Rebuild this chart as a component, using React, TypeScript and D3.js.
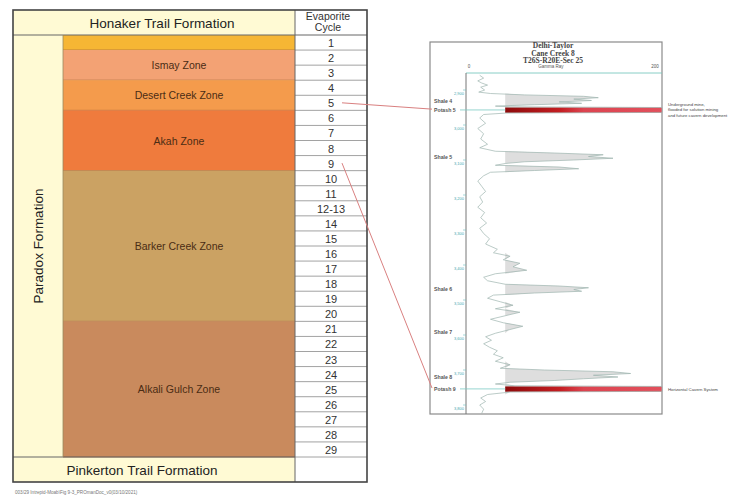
import React from "react";
import * as d3 from "d3";

// ---- Evaporite cycle column ----
const cycleLabels = [
  "1", "2", "3", "4", "5", "6", "7", "8", "9", "10", "11", "12-13", "14", "15",
  "16", "17", "18", "19", "20", "21", "22", "23", "24", "25", "26", "27", "28", "29",
];

// ---- Paradox Formation zones (row index ranges into cycleLabels) ----
const zoneNames = ["", "Ismay Zone", "Desert Creek Zone", "Akah Zone", "Barker Creek Zone", "Alkali Gulch Zone"];
const zoneFirstRow = [0, 1, 3, 5, 9, 19];
const zoneLastRow = [0, 2, 4, 8, 18, 27];
const zoneColors = ["#F6B634", "#F3A274", "#F49B4C", "#EF7B3D", "#CBA263", "#C98A5D"];

// ---- Delhi-Taylor Cane Creek 8 gamma ray log (depth ft, GR API) ----
const logDepths = [
  2858, 2866, 2874, 2880, 2886, 2892, 2900, 2906, 2910, 2914, 2918, 2922, 2926, 2930, 2934, 2938, 2942, 2946,
  2948, 2950, 2964, 2966, 2970, 2980, 2995, 3010, 3025, 3040, 3055, 3065, 3075,
  3080, 3085, 3090, 3095, 3100, 3105, 3110, 3115, 3120, 3125, 3130, 3135,
  3145, 3160, 3175, 3190, 3205, 3220, 3235, 3250, 3265, 3280, 3295, 3310, 3325, 3340, 3355, 3365, 3375, 3385,
  3395, 3405, 3415, 3425, 3435, 3445,
  3455, 3460, 3465, 3470, 3475, 3480, 3486,
  3495, 3505, 3515, 3525, 3535, 3545, 3555, 3565, 3575, 3585, 3595, 3605, 3615, 3625, 3635, 3645, 3655, 3665,
  3675, 3685, 3695,
  3700, 3705, 3710, 3715, 3720, 3725, 3730, 3735, 3740,
  3745, 3747, 3761, 3763, 3770, 3780, 3790, 3800, 3812, 3824,
];
const logGamma = [
  14, 18, 12, 16, 22, 15, 19, 13, 25, 60, 120, 135, 110, 128, 95, 118, 70, 30,
  45, 200, 200, 40, 18, 14, 20, 12, 18, 15, 22, 14, 30,
  90, 140, 125, 150, 110, 60, 40, 30, 95, 115, 70, 25,
  18, 12, 16, 20, 14, 17, 12, 19, 15, 21, 14, 18, 24, 20, 32, 28, 45, 38,
  55, 48, 62, 30, 18, 22,
  40, 95, 125, 110, 118, 70, 28,
  22, 35, 48, 30, 55, 40, 25, 38, 58, 44, 30, 20, 26, 18, 24, 32, 28, 38,
  30, 45, 35,
  80, 150, 168, 130, 155, 120, 90, 45, 30,
  50, 200, 200, 45, 22, 15, 20, 14, 18, 16,
];

const depthTicks = [2900, 3000, 3100, 3200, 3300, 3400, 3500, 3600, 3700, 3800];
const markerNames = ["Shale 4", "Potash 5", "Shale 5", "Shale 6", "Shale 7", "Shale 8", "Potash 9"];
const markerDepths = [2931, 2957, 3091, 3469, 3591, 3720, 3754];
const potashTops = [2950, 3747];
const potashBases = [2965, 3762];
const potashCycles = ["5", "9"];

const titleLines = ["Delhi-Taylor", "Cane Creek 8", "T26S-R20E-Sec 25"];
const mineNote = ["Underground mine,", "flooded for solution mining", "and future cavern development"];
const cavernNote = "Horizontal Cavern System";

const SANS = "'Liberation Sans', Arial, sans-serif";
const SERIF = "'Liberation Serif', 'Times New Roman', serif";

export default function App() {
  // Table geometry
  const tL = 13, tR = 367, tT = 10, tB = 482;
  const colZone = 63, colCycle = 295;
  const rowY = d3.scaleLinear().domain([0, cycleLabels.length]).range([35, 457]);
  const rowH = rowY(1) - rowY(0);
  const cycleX = (colCycle + tR) / 2;
  const zoneX = (colZone + colCycle) / 2;

  // Log panel geometry
  const pL = 430, pR = 662, pT = 42, pB = 414;
  const trackL = 466, trackT = 73;
  const x = d3.scaleLinear().domain([0, 200]).range([trackL, pR]);
  const y = d3.scaleLinear().domain([2900, 3800]).range([90, 405]);

  const pts: [number, number][] = logDepths.map((d, i) => [d, logGamma[i]]);
  const clampGR = (g: number) => Math.max(0, Math.min(200, g));
  const line = d3.line<[number, number]>().x((d) => x(clampGR(d[1]))).y((d) => y(d[0]));
  const shaleArea = d3
    .area<[number, number]>()
    .y((d) => y(d[0]))
    .x0(x(40))
    .x1((d) => x(Math.max(40, clampGR(d[1]))));

  // Connector start points at the cycle cells
  const cycleRowCenter = (label: string) => rowY(cycleLabels.indexOf(label)) + rowH / 2;

  return (
    <svg
      width={739}
      height={498}
      style={{ position: "absolute", left: 0, top: 0, background: "#fff" }}
      fontFamily={SANS}
    >
      <defs>
        <linearGradient id="potashFill" x1="0" x2="1" y1="0" y2="0">
          <stop offset="0" stopColor="#8E0B0C" />
          <stop offset="0.35" stopColor="#C41E22" />
          <stop offset="0.5" stopColor="#DC4450" />
          <stop offset="1" stopColor="#E2505C" />
        </linearGradient>
      </defs>

      {/* ===== Stratigraphic table ===== */}
      <rect x={tL} y={tT} width={colCycle - tL} height={tB - tT} fill="#FFFAD4" />
      <rect x={colCycle} y={tT} width={tR - colCycle} height={tB - tT} fill="#fff" />

      {zoneNames.map((name, i) => {
        const y0 = rowY(zoneFirstRow[i]);
        const y1 = rowY(zoneLastRow[i] + 1);
        return (
          <g key={"z" + i}>
            <rect x={colZone} y={y0} width={colCycle - colZone} height={y1 - y0} fill={zoneColors[i]} />
            <line x1={colZone} x2={colCycle} y1={y1} y2={y1} stroke="#A8683A" strokeWidth={0.8} />
            {name && (
              <text
                x={zoneX}
                y={(y0 + y1) / 2}
                textAnchor="middle"
                dominantBaseline="central"
                fontSize={10.5}
                fill="#4A2C14"
              >
                {name}
              </text>
            )}
          </g>
        );
      })}

      {/* cycle rows */}
      {cycleLabels.map((c, i) => (
        <g key={"c" + i}>
          <line x1={colCycle} x2={tR} y1={rowY(i + 1)} y2={rowY(i + 1)} stroke="#8A8A8A" strokeWidth={0.8} />
          <text
            x={cycleX}
            y={rowY(i) + rowH / 2 + 0.5}
            textAnchor="middle"
            dominantBaseline="central"
            fontSize={11}
            fill="#333"
          >
            {c}
          </text>
        </g>
      ))}

      {/* formation rows and grid */}
      <line x1={tL} x2={tR} y1={rowY(0)} y2={rowY(0)} stroke="#666" strokeWidth={1} />
      <line x1={tL} x2={colCycle} y1={rowY(cycleLabels.length)} y2={rowY(cycleLabels.length)} stroke="#666" strokeWidth={1} />
      <line x1={colZone} x2={colZone} y1={rowY(0)} y2={rowY(cycleLabels.length)} stroke="#9A8A60" strokeWidth={0.8} />
      <line x1={colCycle} x2={colCycle} y1={tT} y2={tB} stroke="#666" strokeWidth={1} />
      <rect x={tL} y={tT} width={tR - tL} height={tB - tT} fill="none" stroke="#444" strokeWidth={1.6} />

      <text x={162} y={23} textAnchor="middle" dominantBaseline="central" fontSize={13.5} fill="#222">
        Honaker Trail Formation
      </text>
      <text x={142} y={470} textAnchor="middle" dominantBaseline="central" fontSize={13.5} fill="#222">
        Pinkerton Trail Formation
      </text>
      <text
        transform={`translate(${(tL + colZone) / 2},${246}) rotate(-90)`}
        textAnchor="middle"
        dominantBaseline="central"
        fontSize={13.5}
        fill="#222"
      >
        Paradox Formation
      </text>
      <text x={cycleX - 3} y={16} textAnchor="middle" dominantBaseline="central" fontSize={10.5} fill="#333">
        Evaporite
      </text>
      <text x={cycleX - 3} y={27} textAnchor="middle" dominantBaseline="central" fontSize={10.5} fill="#333">
        Cycle
      </text>

      <text x={15} y={494} fontSize={4.6} fill="#777">
        003/29 Intrepid-Moab\Fig 9-3_PROmanDoc_v0(03/10/2021)
      </text>

      {/* ===== Gamma ray log panel ===== */}
      <rect x={pL} y={pT} width={pR - pL} height={pB - pT} fill="#fff" stroke="#8A8A8A" strokeWidth={1.2} />
      {titleLines.map((t, i) => (
        <text
          key={"t" + i}
          x={553}
          y={48 + i * 7.5}
          textAnchor="middle"
          fontFamily={SERIF}
          fontWeight="bold"
          fontSize={7.5}
          fill="#444"
        >
          {t}
        </text>
      ))}
      <text x={x(0) + 3} y={68} textAnchor="middle" fontSize={4.5} fill="#555">0</text>
      <text x={x(100) - 13} y={68} textAnchor="middle" fontSize={4.5} fill="#555">Gamma Ray</text>
      <text x={x(200) - 7} y={68} textAnchor="middle" fontSize={4.5} fill="#555">200</text>
      <line x1={trackL} x2={pR} y1={trackT} y2={trackT} stroke="#7CC8C0" strokeWidth={0.9} />
      <line x1={trackL} x2={trackL} y1={trackT} y2={pB} stroke="#777" strokeWidth={1} />

      {/* depth scale */}
      {depthTicks.map((d) => (
        <g key={"d" + d}>
          <line x1={trackL - 3} x2={trackL} y1={y(d)} y2={y(d)} stroke="#6BC0C0" strokeWidth={0.6} />
          <text x={trackL - 2} y={y(d) + 5} textAnchor="end" fontSize={4} fill="#3FA8B0">
            {d3.format(",")(d)}
          </text>
        </g>
      ))}

      {/* shale intervals, log curve and potash beds */}
      <path d={shaleArea(pts) || ""} fill="#DEDEDE" />
      {potashTops.map((t, i) => (
        <rect
          key={"p" + i}
          x={x(40)}
          y={y(t)}
          width={x(200) - x(40)}
          height={y(potashBases[i]) - y(t)}
          fill="url(#potashFill)"
        />
      ))}
      <path d={line(pts) || ""} fill="none" stroke="#9DB5AF" strokeWidth={0.7} />

      {/* stratigraphic markers */}
      {markerNames.map((m, i) => (
        <g key={"m" + i}>
          {m.startsWith("Potash") && (
            <line x1={trackL - 6} x2={x(40)} y1={y(markerDepths[i])} y2={y(markerDepths[i])} stroke="#7CCAC4" strokeWidth={0.8} />
          )}
          <text x={434} y={y(markerDepths[i]) + 2} fontSize={5.2} fontWeight="bold" fill="#555">
            {m}
          </text>
        </g>
      ))}

      {/* notes */}
      {mineNote.map((t, i) => (
        <text key={"n" + i} x={668} y={y(markerDepths[1]) - 4 + i * 5.5} fontSize={4.3} fill="#444">
          {t}
        </text>
      ))}
      <text x={668} y={y(markerDepths[6]) + 2} fontSize={4.3} fill="#444">
        {cavernNote}
      </text>

      {/* cycle-to-log connectors */}
      {potashCycles.map((c, i) => (
        <line
          key={"k" + i}
          x1={342}
          y1={cycleRowCenter(c)}
          x2={pL + 2}
          y2={y((potashTops[i] + potashBases[i]) / 2) - 1}
          stroke="#D98080"
          strokeWidth={1}
        />
      ))}
    </svg>
  );
}
